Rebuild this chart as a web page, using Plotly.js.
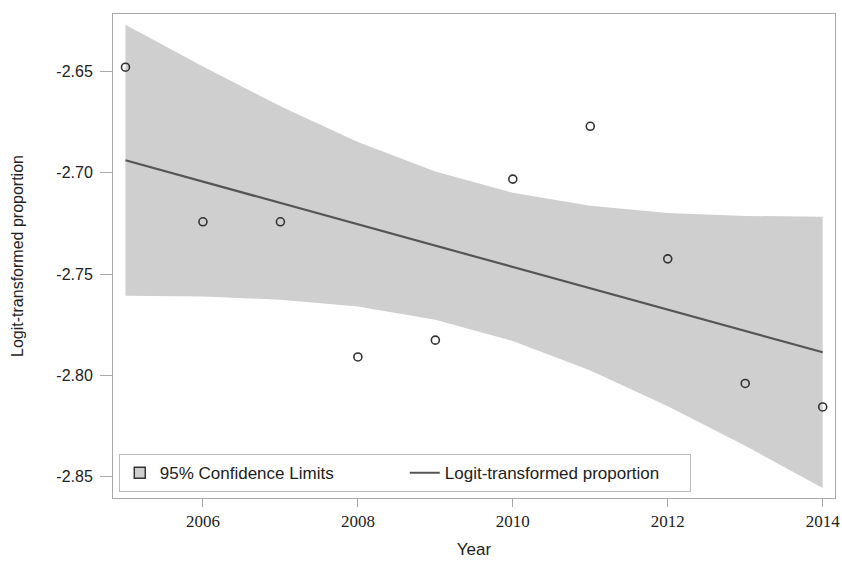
<!DOCTYPE html>
<html>
<head>
<meta charset="utf-8">
<script src="https://cdn.plot.ly/plotly-3.0.1.min.js"></script>
<style>html,body{margin:0;padding:0;background:#fff;}#chart{width:842px;height:562px;}</style>
</head>
<body>
<div id="chart"></div>
<script>
// Data
var years = [2005, 2006, 2007, 2008, 2009, 2010, 2011, 2012, 2013, 2014];
var observed = [-2.6478, -2.7242, -2.7242, -2.7910, -2.7827, -2.7031, -2.6770, -2.7425, -2.8041, -2.8157];
var fitted = [-2.6938, -2.7043, -2.7149, -2.7254, -2.7360, -2.7465, -2.7570, -2.7676, -2.7781, -2.7887];
var upperCL = [-2.6268, -2.6475, -2.6671, -2.6847, -2.6994, -2.7099, -2.7163, -2.7198, -2.7213, -2.7217];
var lowerCL = [-2.7608, -2.7611, -2.7627, -2.7661, -2.7726, -2.7831, -2.7977, -2.8154, -2.8349, -2.8557];
var xTicks = [2006, 2008, 2010, 2012, 2014];
var yTicks = [-2.65, -2.70, -2.75, -2.80, -2.85];
var bandName = '95% Confidence Limits';
var lineName = 'Logit-transformed proportion';

var bandX = years.concat(years.slice().reverse());
var bandY = upperCL.concat(lowerCL.slice().reverse());

var traces = [
  {
    x: bandX, y: bandY, type: 'scatter', mode: 'lines', fill: 'toself',
    fillcolor: '#cfcfcf', line: {color: 'rgba(0,0,0,0)', width: 0},
    name: bandName, showlegend: false, hoverinfo: 'skip'
  },
  {
    // legend-only entry to show the square swatch of the band
    x: [null], y: [null], type: 'scatter', mode: 'markers',
    marker: {symbol: 'square', size: 11, color: '#cfcfcf', line: {width: 1.5, color: '#333333'}},
    name: bandName, showlegend: true
  },
  {
    x: years, y: fitted, type: 'scatter', mode: 'lines',
    line: {color: '#555555', width: 2.2},
    name: lineName
  },
  {
    x: years, y: observed, type: 'scatter', mode: 'markers',
    marker: {symbol: 'circle-open', size: 8, color: '#333333', line: {width: 1.6, color: '#333333'}},
    showlegend: false, name: 'observed'
  }
];

var layout = {
  width: 842, height: 562,
  margin: {l: 113, r: 7, t: 14, b: 64},
  paper_bgcolor: '#ffffff', plot_bgcolor: '#ffffff',
  font: {family: 'Liberation Sans, Arial, sans-serif', color: '#222222', size: 16},
  showlegend: true,
  legend: {
    orientation: 'h', x: 0.008, y: 0.012, xanchor: 'left', yanchor: 'bottom',
    bgcolor: '#ffffff', bordercolor: '#bbbbbb', borderwidth: 1,
    font: {size: 17, color: '#222222', family: 'Liberation Sans, Arial, sans-serif'},
    traceorder: 'normal', entrywidth: 240, entrywidthmode: 'pixels'
  },
  xaxis: {
    range: [2004.839, 2014.159], tickvals: xTicks, ticktext: xTicks.map(String),
    showgrid: false, zeroline: false,
    showline: true, mirror: true, linecolor: '#a8a8a8', linewidth: 1,
    ticks: 'outside', ticklen: 8, tickcolor: '#a8a8a8',
    tickfont: {family: 'Liberation Serif, Times New Roman, serif', size: 17, color: '#222222'},
    title: {text: 'Year', font: {size: 17, color: '#222222'}, standoff: 12}
  },
  yaxis: {
    range: [-2.8607, -2.6215], tickvals: yTicks, ticktext: yTicks.map(function(v){return v.toFixed(2);}),
    showgrid: false, zeroline: false,
    showline: true, mirror: true, linecolor: '#a8a8a8', linewidth: 1,
    ticks: 'outside', ticklen: 12, tickcolor: '#a8a8a8', ticklabelstandoff: 4,
    tickfont: {size: 16, color: '#222222'},
    title: {text: 'Logit-transformed proportion', font: {size: 16, color: '#222222'}, standoff: 28}
  }
};

Plotly.newPlot('chart', traces, layout, {displayModeBar: false, staticPlot: true});
</script>
</body>
</html>
